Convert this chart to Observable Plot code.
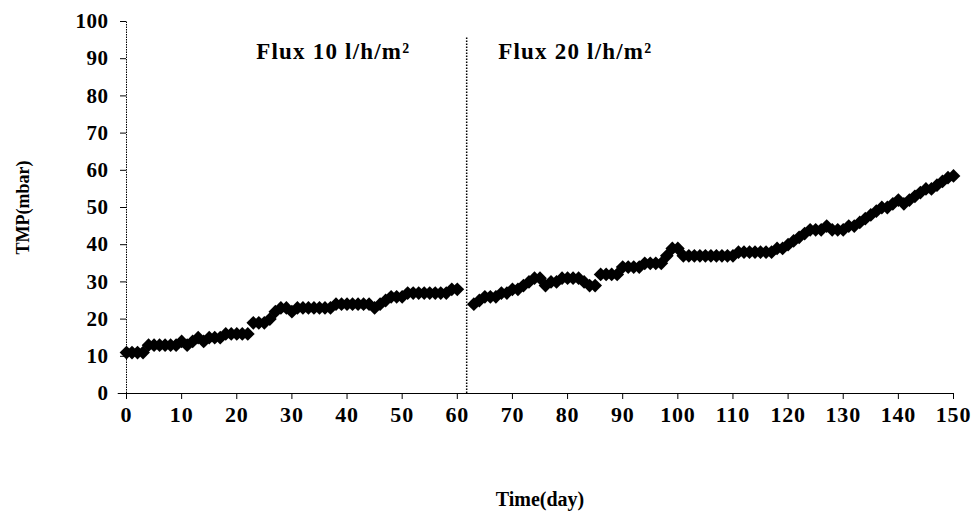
<!DOCTYPE html>
<html>
<head>
<meta charset="utf-8">
<script src="https://cdn.jsdelivr.net/npm/d3@7"></script>
<script src="https://cdn.jsdelivr.net/npm/@observablehq/plot@0.6"></script>
<style>
  html, body { margin: 0; padding: 0; background: #fff; }
  #chart svg g[aria-label="text"] text { letter-spacing: 1.2px; }
  #chart svg g[aria-label="x-axis tick label"] text { letter-spacing: 0.8px; }
  #chart svg g[aria-label="y-axis tick label"] text { letter-spacing: 0.5px; }
</style>
</head>
<body>
<div id="chart"></div>
<script>
// Flux 10 period (days 0-60)
const days1 = d3.range(0, 61);
const tmp1 = [11,11,11,11,13,13,13,13,13,13,
              14,13,14,15,14,15,15,15,16,16,
              16,16,16,19,19,19,20,22,23,23,
              22,23,23,23,23,23,23,23,24,24,
              24,24,24,24,24,23,24,25,26,26,
              26,27,27,27,27,27,27,27,27,28,
              28];
// Flux 20 period (days 63-150)
const days2 = d3.range(63, 151);
const tmp2 = [24,25,26,26,26,27,27,28,28,29,
              30,31,31,29,30,30,31,31,31,31,
              30,29,29,32,32,32,32,34,34,34,
              34,35,35,35,35,37,39,39,37,37,
              37,37,37,37,37,37,37,37,38,38,
              38,38,38,38,38,39,39,40,41,42,
              43,44,44,44,45,44,44,44,45,45,
              46,47,48,49,50,50,51,52,51,52,
              53,54,55,55,56,57,58,58.5];
const xTicks = d3.range(0, 151, 10);
const yTicks = d3.range(0, 101, 10);
const fluxLabels = ["Flux 10 l/h/m²", "Flux 20 l/h/m²"];
const fluxLabelDay = [37.5, 81.4];
const switchDay = 61.7;

const points = [
  ...days1.map((d, i) => ({day: d, tmp: tmp1[i]})),
  ...days2.map((d, i) => ({day: d, tmp: tmp2[i]}))
];
const labels = fluxLabels.map((t, i) => ({text: t, day: fluxLabelDay[i], tmp: 92}));

const font = "'Liberation Serif', 'Times New Roman', serif";
const chart = Plot.plot({
  width: 975,
  height: 513,
  marginLeft: 126,
  marginRight: 22,
  marginTop: 21,
  marginBottom: 120,
  style: {fontFamily: font, fontWeight: "bold", fontSize: "20px", color: "#000", background: "#fff"},
  x: {domain: [0, 150]},
  y: {domain: [0, 100]},
  marks: [
    Plot.ruleX([0], {y1: 0, y2: 100, stroke: "#000", strokeDasharray: "1.5,1"}),
    Plot.ruleY([0], {x1: -1.5, x2: 150, stroke: "#000", strokeWidth: 1.2}),
    Plot.ruleX([switchDay], {y1: 0, y2: 96, stroke: "#000", strokeDasharray: "1.5,1.5", strokeWidth: 1.5}),
    Plot.axisX({ticks: xTicks, tickSize: 6, tickPadding: 7, fontSize: 22, fontWeight: "bold",
      label: null}),
    Plot.axisX({ticks: [], label: "Time(day)", labelAnchor: "center", labelArrow: "none",
      labelOffset: 112, fontSize: 20, fontWeight: "bold"}),
    Plot.axisY({ticks: yTicks, tickSize: 6, tickPadding: 12, fontSize: 21, fontWeight: "bold",
      label: null}),
    Plot.axisY({ticks: [], label: "TMP(mbar)", labelAnchor: "center", labelArrow: "none",
      labelOffset: 110, fontSize: 18, fontWeight: "bold"}),
    Plot.dot(points, {x: "day", y: "tmp", symbol: "diamond2", r: 6.2, fill: "#000", stroke: "none"}),
    Plot.text(labels, {x: "day", y: "tmp", text: "text", fontSize: 23, fontWeight: "bold", fill: "#000"})
  ]
});
document.getElementById("chart").appendChild(chart);
</script>
</body>
</html>
